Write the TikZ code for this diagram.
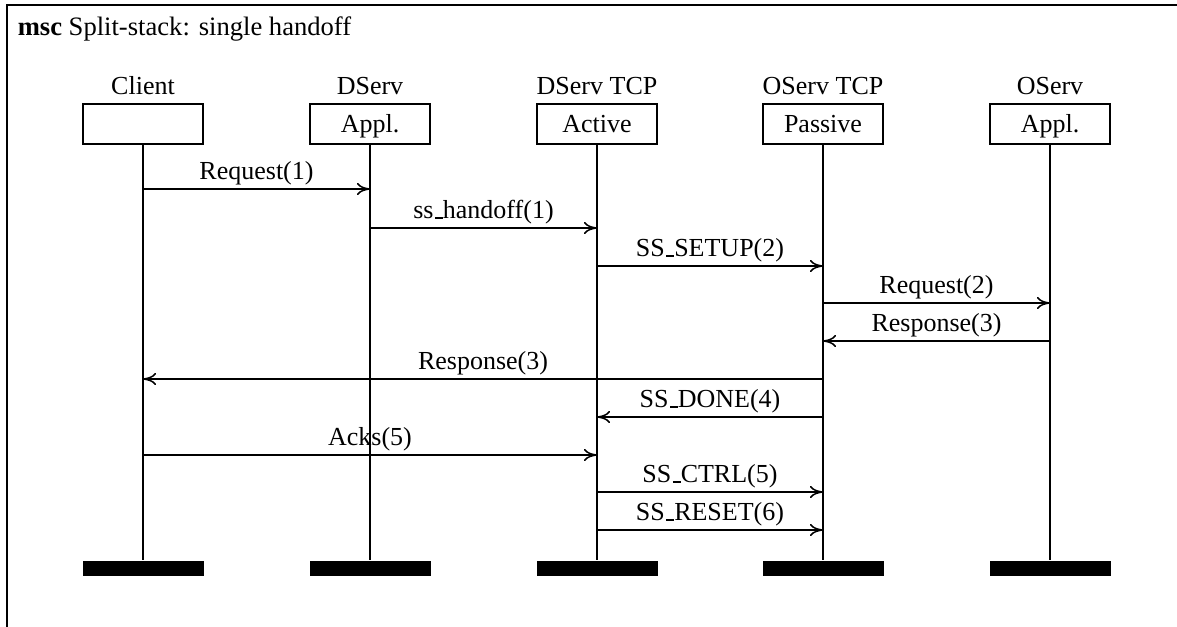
\documentclass[tikz,border=0pt]{standalone}
\usepackage{fontspec}
\setmainfont{Liberation Serif}
\usetikzlibrary{arrows.meta}
% LaTeX-style underscore: a short rule sitting on the baseline
\newcommand\mscus{\leavevmode\kern.06em\vbox{\hrule width.3em height 1.3pt}}
\begin{document}
\begin{tikzpicture}[x=1pt, y=-1pt,
  font=\fontsize{26}{30}\selectfont,
  line width=1.5pt,
  txt/.style={anchor=base, inner sep=0pt},
  headbox/.style={draw, minimum width=120pt, minimum height=40pt, inner sep=0pt},
  endbar/.style={fill=black, minimum width=121pt, minimum height=15pt, inner sep=0pt},
  msg/.style={-{To[length=13pt,width=12pt]}, line width=1.5pt},
  msglabel/.style={midway, anchor=base, yshift=9.5pt, inner sep=0pt}]
\useasboundingbox (0,0) rectangle (1177,626);

% frame of the chart
\draw[line cap=rect] (7,640) -- (7,5) -- (1190,5);
\node[anchor=base west, inner sep=0pt] (title) at (17,36)
  {\fontsize{26.6}{30}\selectfont\textbf{msc} Split-stack: single handoff};

% instances: name, head box, lifeline, end bar
\foreach \n/\x/\t/\b in {cl/143/Client/{},
                         ds/370/DServ/Appl.,
                         dt/597/DServ TCP/Active,
                         ot/823/OServ TCP/Passive,
                         os/1050/OServ/Appl.}{
  \node[txt] (\n-name) at (\x,94) {\t};
  \node[headbox] (\n-head) at (\x,124) {};
  \node[txt] (\n-inst) at (\x,132) {\b};
  \node[endbar] (\n-end) at (\x,568) {};
  \draw (\n-head.south) -- (\n-end.north);
}

% messages
\foreach \a/\b/\y/\t in {cl/ds/189/Request(1),
                         ds/dt/228/ss\mscus handoff(1),
                         dt/ot/266/SS\mscus SETUP(2),
                         ot/os/303/Request(2),
                         os/ot/341/Response(3),
                         ot/cl/379/Response(3),
                         ot/dt/417/SS\mscus DONE(4),
                         cl/dt/455/Acks(5),
                         dt/ot/492/SS\mscus CTRL(5),
                         dt/ot/530/SS\mscus RESET(6)}{
  \draw[msg] (\a-head.south |- 0,\y) -- (\b-head.south |- 0,\y)
    node[msglabel] {\t};
}
\end{tikzpicture}
\end{document}
